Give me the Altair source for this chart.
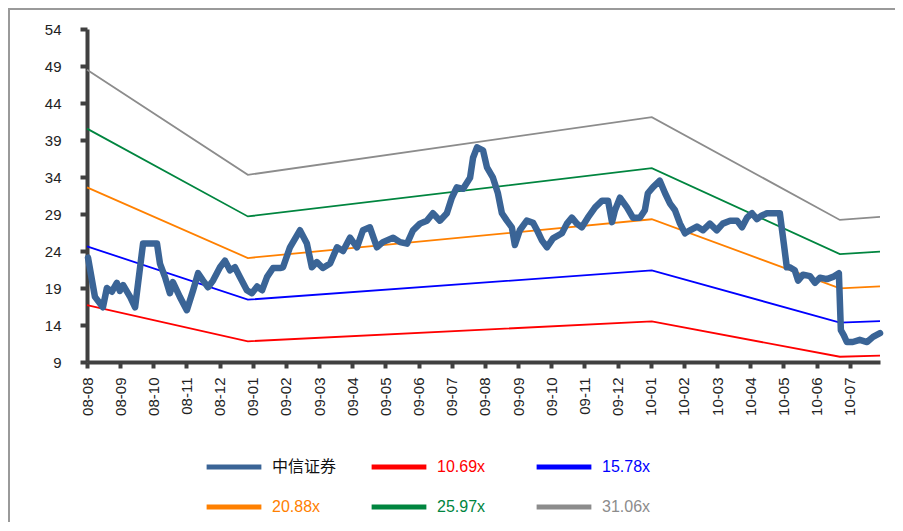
import altair as alt
import pandas as pd

# ---- data ----
month_labels = ["08-08", "08-09", "08-10", "08-11", "08-12", "09-01", "09-02", "09-03",
                "09-04", "09-05", "09-06", "09-07", "09-08", "09-09", "09-10", "09-11",
                "09-12", "10-01", "10-02", "10-03", "10-04", "10-05", "10-06", "10-07"]
y_ticks = [9, 14, 19, 24, 29, 34, 39, 44, 49, 54]

# month index (0 = 08-08) and price of 中信证券
price_t = [0.03, 0.24, 0.48, 0.60, 0.75, 0.90, 0.99, 1.09, 1.30, 1.45, 1.60, 1.69, 2.11, 2.20,
           2.35, 2.50, 2.59, 2.80, 3.01, 3.20, 3.35, 3.50, 3.65, 3.80, 4.01, 4.16, 4.31, 4.46,
           4.61, 4.82, 4.97, 5.13, 5.28, 5.43, 5.61, 5.82, 5.91, 6.12, 6.42, 6.63, 6.78, 6.93,
           7.11, 7.33, 7.54, 7.72, 7.93, 8.14, 8.32, 8.53, 8.74, 8.92, 9.23, 9.44, 9.65, 9.83,
           10.04, 10.25, 10.43, 10.64, 10.85, 11.00, 11.15, 11.34, 11.55, 11.64, 11.76, 11.94,
           12.06, 12.24, 12.39, 12.51, 12.66, 12.81, 12.90, 13.05, 13.26, 13.45, 13.57, 13.72,
           13.87, 14.05, 14.32, 14.47, 14.62, 14.77, 14.92, 15.10, 15.32, 15.53, 15.71, 15.83,
           15.92, 16.07, 16.28, 16.46, 16.67, 16.82, 16.91, 17.06, 17.27, 17.43, 17.58, 17.73,
           17.88, 18.03, 18.18, 18.39, 18.57, 18.78, 18.99, 19.17, 19.39, 19.60, 19.75, 19.90,
           20.05, 20.20, 20.35, 20.50, 20.89, 21.01, 21.10, 21.19, 21.34, 21.44, 21.59, 21.80,
           21.95, 22.10, 22.31, 22.49, 22.67, 22.73, 22.82, 22.91, 23.09, 23.30, 23.52, 23.70,
           23.91]
price_v = [23.1, 17.8, 16.4, 19.0, 18.5, 19.7, 18.6, 19.4, 17.8, 16.4, 21.8, 25.0, 25.0, 22.3,
           20.5, 18.3, 19.8, 17.8, 16.0, 18.7, 21.0, 20.0, 19.1, 20.0, 21.8, 22.7, 21.4, 21.8,
           20.5, 18.7, 18.3, 19.2, 18.7, 20.5, 21.7, 21.7, 21.8, 24.5, 26.8, 25.0, 21.8, 22.5,
           21.7, 22.3, 24.5, 24.0, 25.8, 24.5, 26.8, 27.2, 24.5, 25.2, 25.8, 25.2, 25.0, 26.8,
           27.7, 28.1, 29.1, 28.1, 29.1, 31.2, 32.6, 32.4, 33.9, 36.6, 38.0, 37.6,
           35.3, 33.9, 31.8, 29.1, 28.1, 27.2, 24.8, 26.8, 28.1, 27.8, 26.8, 25.4,
           24.5, 25.7, 26.4, 27.7, 28.5, 27.7, 27.2, 28.5, 29.9, 30.8, 30.8, 27.9,
           29.5, 31.2, 29.9, 28.5, 28.5, 29.5, 31.8, 32.6, 33.5, 31.8, 30.4, 29.5,
           27.7, 26.4, 26.8, 27.3, 26.8, 27.7, 26.8, 27.7, 28.1, 28.1, 27.2, 28.5,
           29.1, 28.3, 28.8, 29.1, 29.1, 25.0, 21.8, 21.8, 21.4, 20.0, 20.8, 20.6,
           19.7, 20.4, 20.2, 20.5, 21.0, 13.3, 12.6, 11.7, 11.7, 12.0, 11.7, 12.4,
           12.9]

# PE band lines (vertices)
band_t = [0, 4.85, 17.03, 22.70, 23.91]
band_names = ["10.69x", "15.78x", "20.88x", "25.97x", "31.06x"]
band_10 = [16.69, 11.80, 14.48, 9.71, 9.85]
band_15 = [24.63, 17.42, 21.38, 14.33, 14.53]
band_20 = [32.59, 23.05, 28.29, 18.96, 19.23]
band_25 = [40.54, 28.67, 35.19, 23.58, 23.92]
band_31 = [48.48, 34.29, 42.09, 28.20, 28.61]

price_name = "中信证券"
series_order = [price_name] + band_names
series_colors = ["#3A6496", "#FF0000", "#0000FF", "#FF8000", "#00853F", "#8C8C8C"]
label_colors = ["#111111", "#FF0000", "#0000FF", "#FF8000", "#00853F", "#8C8C8C"]

rows = [{"t": t, "v": v, "series": price_name} for t, v in zip(price_t, price_v)]
for name, vals in zip(band_names, [band_10, band_15, band_20, band_25, band_31]):
    rows += [{"t": t, "v": v, "series": name} for t, v in zip(band_t, vals)]
df = pd.DataFrame(rows)

FONT = "Liberation Sans, Arial, Noto Sans CJK SC"

label_expr = "[" + ",".join("'%s'" % m for m in month_labels) + "][datum.value]"
color_expr = ("[" + ",".join("'%s'" % c for c in label_colors) + "][indexof(["
              + ",".join("'%s'" % s for s in series_order) + "], datum.label)]")

x_enc = alt.X("t:Q", scale=alt.Scale(domain=[0, 23.91], nice=False, zero=False),
              axis=alt.Axis(values=list(range(len(month_labels))), labelExpr=label_expr,
                            labelAngle=-90, title=None, labelPadding=9, tickSize=6))
y_enc = alt.Y("v:Q", scale=alt.Scale(domain=[9, 54], nice=False, zero=False),
              axis=alt.Axis(values=y_ticks, title=None, tickSize=7, labelPadding=19))

color_enc = alt.Color(
    "series:N",
    scale=alt.Scale(domain=series_order, range=series_colors),
    sort=series_order,
    legend=alt.Legend(
        title=None, orient="none", legendX=117, legendY=408, columns=3,
        direction="horizontal",
        gridAlign="all", columnPadding=24, rowPadding=-19,
        symbolType="stroke", symbolSize=3000, symbolStrokeWidth=5,
        labelFontSize=16, labelFont=FONT, labelOffset=8, labelLimit=200,
        labelColor=alt.ExprRef(expr=color_expr),
    ),
)

base = alt.Chart(df)

bands = base.transform_filter(alt.datum.series != price_name).mark_line(
    strokeWidth=1.8).encode(x=x_enc, y=y_enc, color=color_enc, detail="series:N")

price = base.transform_filter(alt.datum.series == price_name).mark_line(
    strokeWidth=6.5, strokeJoin="round", strokeCap="round").encode(
    x=x_enc, y=y_enc, color=color_enc)

one = pd.DataFrame({"a": [0]})
frame_top = alt.Chart(one).mark_rule(stroke="#9A9A9A", strokeWidth=2).encode(
    x=alt.value(-79), x2=alt.value(830), y=alt.value(-20))
frame_left = alt.Chart(one).mark_rule(stroke="#9A9A9A", strokeWidth=2).encode(
    x=alt.value(-78), y=alt.value(-21), y2=alt.value(520))

chart = alt.layer(frame_top, frame_left, bands, price).properties(
    width=793, height=333,
    autosize=alt.AutoSizeParams(type="none"),
    padding={"left": 79, "top": 21, "right": 15, "bottom": 160},
).configure_view(stroke=None).configure_axis(
    grid=False, domainColor="#404040", domainWidth=4, tickColor="#404040", tickWidth=4,
    labelColor="#222222", labelFont=FONT, labelFontSize=15,
)

chart.save("out.html", embed_options={"renderer": "svg", "actions": False})
